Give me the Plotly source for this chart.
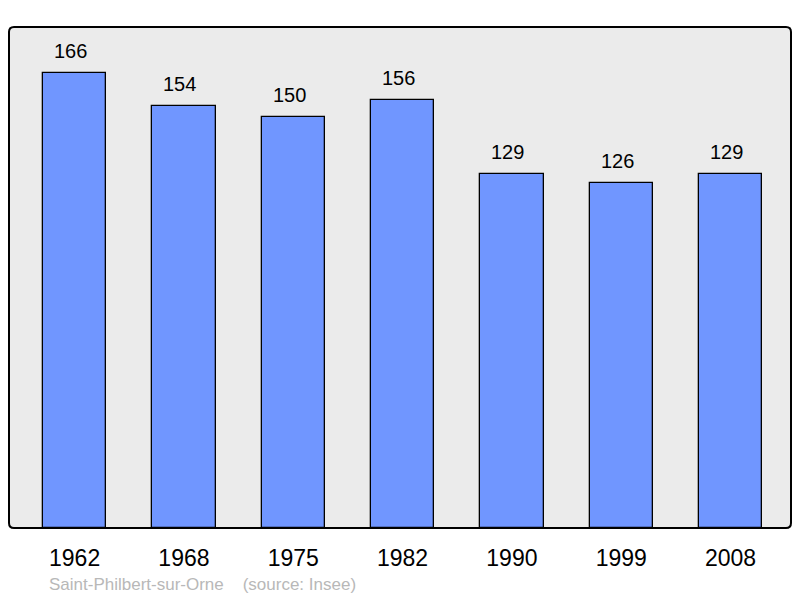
import plotly.graph_objects as go

years = ["1962", "1968", "1975", "1982", "1990", "1999", "2008"]
population = [166, 154, 150, 156, 129, 126, 129]
commune = "Saint-Philbert-sur-Orne"
source = "(source: Insee)"

W, H = 800, 598
L, R, T, B = 9, 9, 27, 70
x_idx = list(range(len(years)))

fig = go.Figure()
fig.add_trace(go.Bar(
    x=x_idx, y=population, width=0.58,
    marker=dict(color="#7096FF", line=dict(color="#000000", width=1.3)),
    hoverinfo="skip",
))

for i, v in zip(x_idx, population):
    fig.add_annotation(x=i, y=v, text=str(v), showarrow=False, yshift=22, xshift=-4,
                       font=dict(size=20, color="#000000"))

# rounded frame in paper coords
pw, ph = W - L - R, H - T - B
rx, ry = 5 / pw, 5 / ph
path = (f"M {rx},0 L {1-rx},0 Q 1,0 1,{ry} L 1,{1-ry} Q 1,1 {1-rx},1 "
        f"L {rx},1 Q 0,1 0,{1-ry} L 0,{ry} Q 0,0 {rx},0 Z")
fig.add_shape(type="path", path=path, xref="paper", yref="paper",
              line=dict(color="#000000", width=2), layer="above")

fig.add_annotation(text=commune + "\u00a0\u00a0\u00a0\u00a0" + source,
                   xref="paper", yref="paper",
                   x=(47 - L) / pw, y=-(584 - (H - B)) / ph,
                   xanchor="left", yanchor="middle", showarrow=False,
                   font=dict(size=17, color="#B8B8B8"))

fig.update_layout(
    width=W, height=H,
    margin=dict(l=L, r=R, t=T, b=B),
    paper_bgcolor="#FFFFFF", plot_bgcolor="#EBEBEB",
    font=dict(family="Liberation Sans, Arial, sans-serif"),
    showlegend=False,
    bargap=0,
)
fig.update_xaxes(range=[-0.6, 6.553], tickmode="array", tickvals=x_idx, ticktext=years,
                 showgrid=False, zeroline=False, showline=False, ticks="",
                 tickfont=dict(size=23, color="#000000"), ticklabelstandoff=14)
fig.update_yaxes(range=[0, 182.8], showgrid=False, zeroline=False, showticklabels=False,
                 showline=False, ticks="")

fig.write_html("out.html", config={"displayModeBar": False},
               post_script="document.body.style.margin='0';document.body.style.overflow='hidden';")
